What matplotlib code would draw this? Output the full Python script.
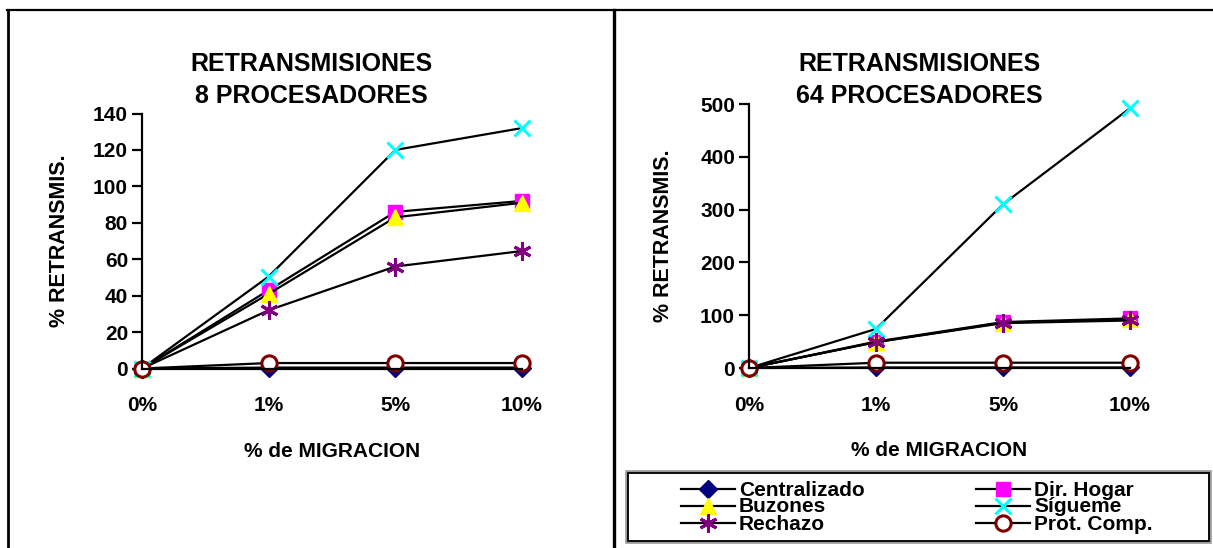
import matplotlib
matplotlib.use("Agg")
import matplotlib.pyplot as plt
from matplotlib.lines import Line2D

plt.rcParams['font.family'] = ['Liberation Sans', 'DejaVu Sans']
plt.rcParams['font.weight'] = 'bold'

W, H = 1213, 548

# categories (% of migration)
categories = ["0%", "1%", "5%", "10%"]

series_names = ["Centralizado", "Dir. Hogar", "Buzones", "Sígueme", "Rechazo", "Prot. Comp."]

# retransmissions, 8 processors
p8_centralizado = [0, 0.5, 0.5, 0.5]
p8_dir_hogar = [0, 43, 86, 92]
p8_buzones = [0, 41, 83, 91]
p8_sigueme = [0, 50.5, 120, 132]
p8_rechazo = [0, 32, 56, 64.5]
p8_prot_comp = [0, 3, 3, 3]

# retransmissions, 64 processors
p64_centralizado = [0, 1, 1, 1]
p64_dir_hogar = [0, 50, 87, 94]
p64_buzones = [0, 49, 86, 92]
p64_sigueme = [0, 74, 310, 492]
p64_rechazo = [0, 49, 85, 90]
p64_prot_comp = [0, 10, 10, 10]

y_ticks_8 = [0, 20, 40, 60, 80, 100, 120, 140]
y_ticks_64 = [0, 100, 200, 300, 400, 500]

styles = [
    dict(marker="D", ms=9, mfc="#000080", mec="#000080", mew=1),
    dict(marker="s", ms=10, mfc="#FF00FF", mec="#FF00FF", mew=1),
    dict(marker="^", ms=12, mfc="#FFFF00", mec="#FFFF00", mew=1),
    dict(marker="x", ms=12, mfc="#00FFFF", mec="#00FFFF", mew=2.2),
    dict(marker=(6, 2, 0), ms=13, mfc="#800080", mec="#800080", mew=2.2),
    dict(marker="o", ms=11, mfc="white", mec="#800000", mew=2.2),
]


def px(x, y):
    return x / W, 1 - y / H


fig = plt.figure(figsize=(W / 100, H / 100), dpi=100)


def panel(rect, data, yticks, ylabel_x):
    ax = fig.add_axes(rect)
    xs = list(range(len(categories)))
    for vals, st in zip(data, styles):
        ax.plot(xs, vals, color="black", lw=1.6, clip_on=False, **st)
    ax.set_xlim(0, len(categories) - 1)
    ax.set_ylim(yticks[0], yticks[-1])
    ax.set_yticks(yticks)
    ax.set_xticks(xs)
    ax.set_xticklabels(categories)
    for s in ("top", "right"):
        ax.spines[s].set_visible(False)
    ax.spines["left"].set_linewidth(1.6)
    ax.spines["bottom"].set_linewidth(1.6)
    ax.tick_params(axis="y", direction="out", length=7, width=1.6,
                   labelsize=15, pad=3)
    ax.tick_params(axis="x", length=0, labelsize=15, pad=20)
    for lab in ax.get_xticklabels() + ax.get_yticklabels():
        lab.set_fontweight("bold")
    ax.set_xlabel("% de MIGRACION", fontsize=15, fontweight="bold", labelpad=19)
    ax.set_ylabel("% RETRANSMIS.", fontsize=15.5, fontweight="bold")
    ax.yaxis.set_label_coords(ylabel_x, 0.5)
    ax.patch.set_alpha(0)
    return ax


ax1 = panel([142 / W, 1 - 368.5 / H, 380 / W, 255 / H],
            [p8_centralizado, p8_dir_hogar, p8_buzones, p8_sigueme, p8_rechazo, p8_prot_comp],
            y_ticks_8, -0.19)
ax2 = panel([749 / W, 1 - 368 / H, 381 / W, 264 / H],
            [p64_centralizado, p64_dir_hogar, p64_buzones, p64_sigueme, p64_rechazo, p64_prot_comp],
            y_ticks_64, -0.196)

# chart titles
fig.text(*px(311, 80), "RETRANSMISIONES\n8 PROCESADORES", ha="center", va="center",
         fontsize=18, fontweight="bold", linespacing=1.45)
fig.text(*px(919, 80), "RETRANSMISIONES\n64 PROCESADORES", ha="center", va="center",
         fontsize=18, fontweight="bold", linespacing=1.45)

# frame lines
fig.add_artist(Line2D([px(7, 0)[0], 1], [px(0, 10)[1]] * 2, color="black", lw=1.6))
fig.add_artist(Line2D([px(7.5, 0)[0]] * 2, [px(0, 10)[1], 0], color="black", lw=2))
fig.add_artist(Line2D([px(614, 0)[0]] * 2, [px(0, 10)[1], 0], color="black", lw=2.4))

# legend box
box_x0, box_y0, box_x1, box_y1 = 627, 472, 1210, 542
fig.add_artist(plt.Rectangle(px(box_x0, box_y1), (box_x1 - box_x0) / W, (box_y1 - box_y0) / H,
                             fill=False, ec="#999999", lw=2.6))
fig.add_artist(plt.Rectangle(px(box_x0 + 1, box_y1 - 1), (box_x1 - box_x0 - 2) / W,
                             (box_y1 - box_y0 - 2) / H, fill=False, ec="black", lw=1.3))

legend_order = [0, 2, 4, 1, 3, 5]
col_x = [708, 1003]
row_y = [489, 506, 523]
for k, idx in enumerate(legend_order):
    c, r = divmod(k, 3)
    mx, my = col_x[c], row_y[r]
    fig.add_artist(Line2D([px(mx - 27, 0)[0], px(mx, 0)[0], px(mx + 27, 0)[0]],
                          [px(0, my)[1]] * 3, color="black", lw=1.6,
                          markevery=[1], **styles[idx]))
    fig.text(*px(mx + 31, my + 1), series_names[idx], ha="left", va="center",
             fontsize=15, fontweight="bold")

fig.savefig("out.png", dpi=100)
